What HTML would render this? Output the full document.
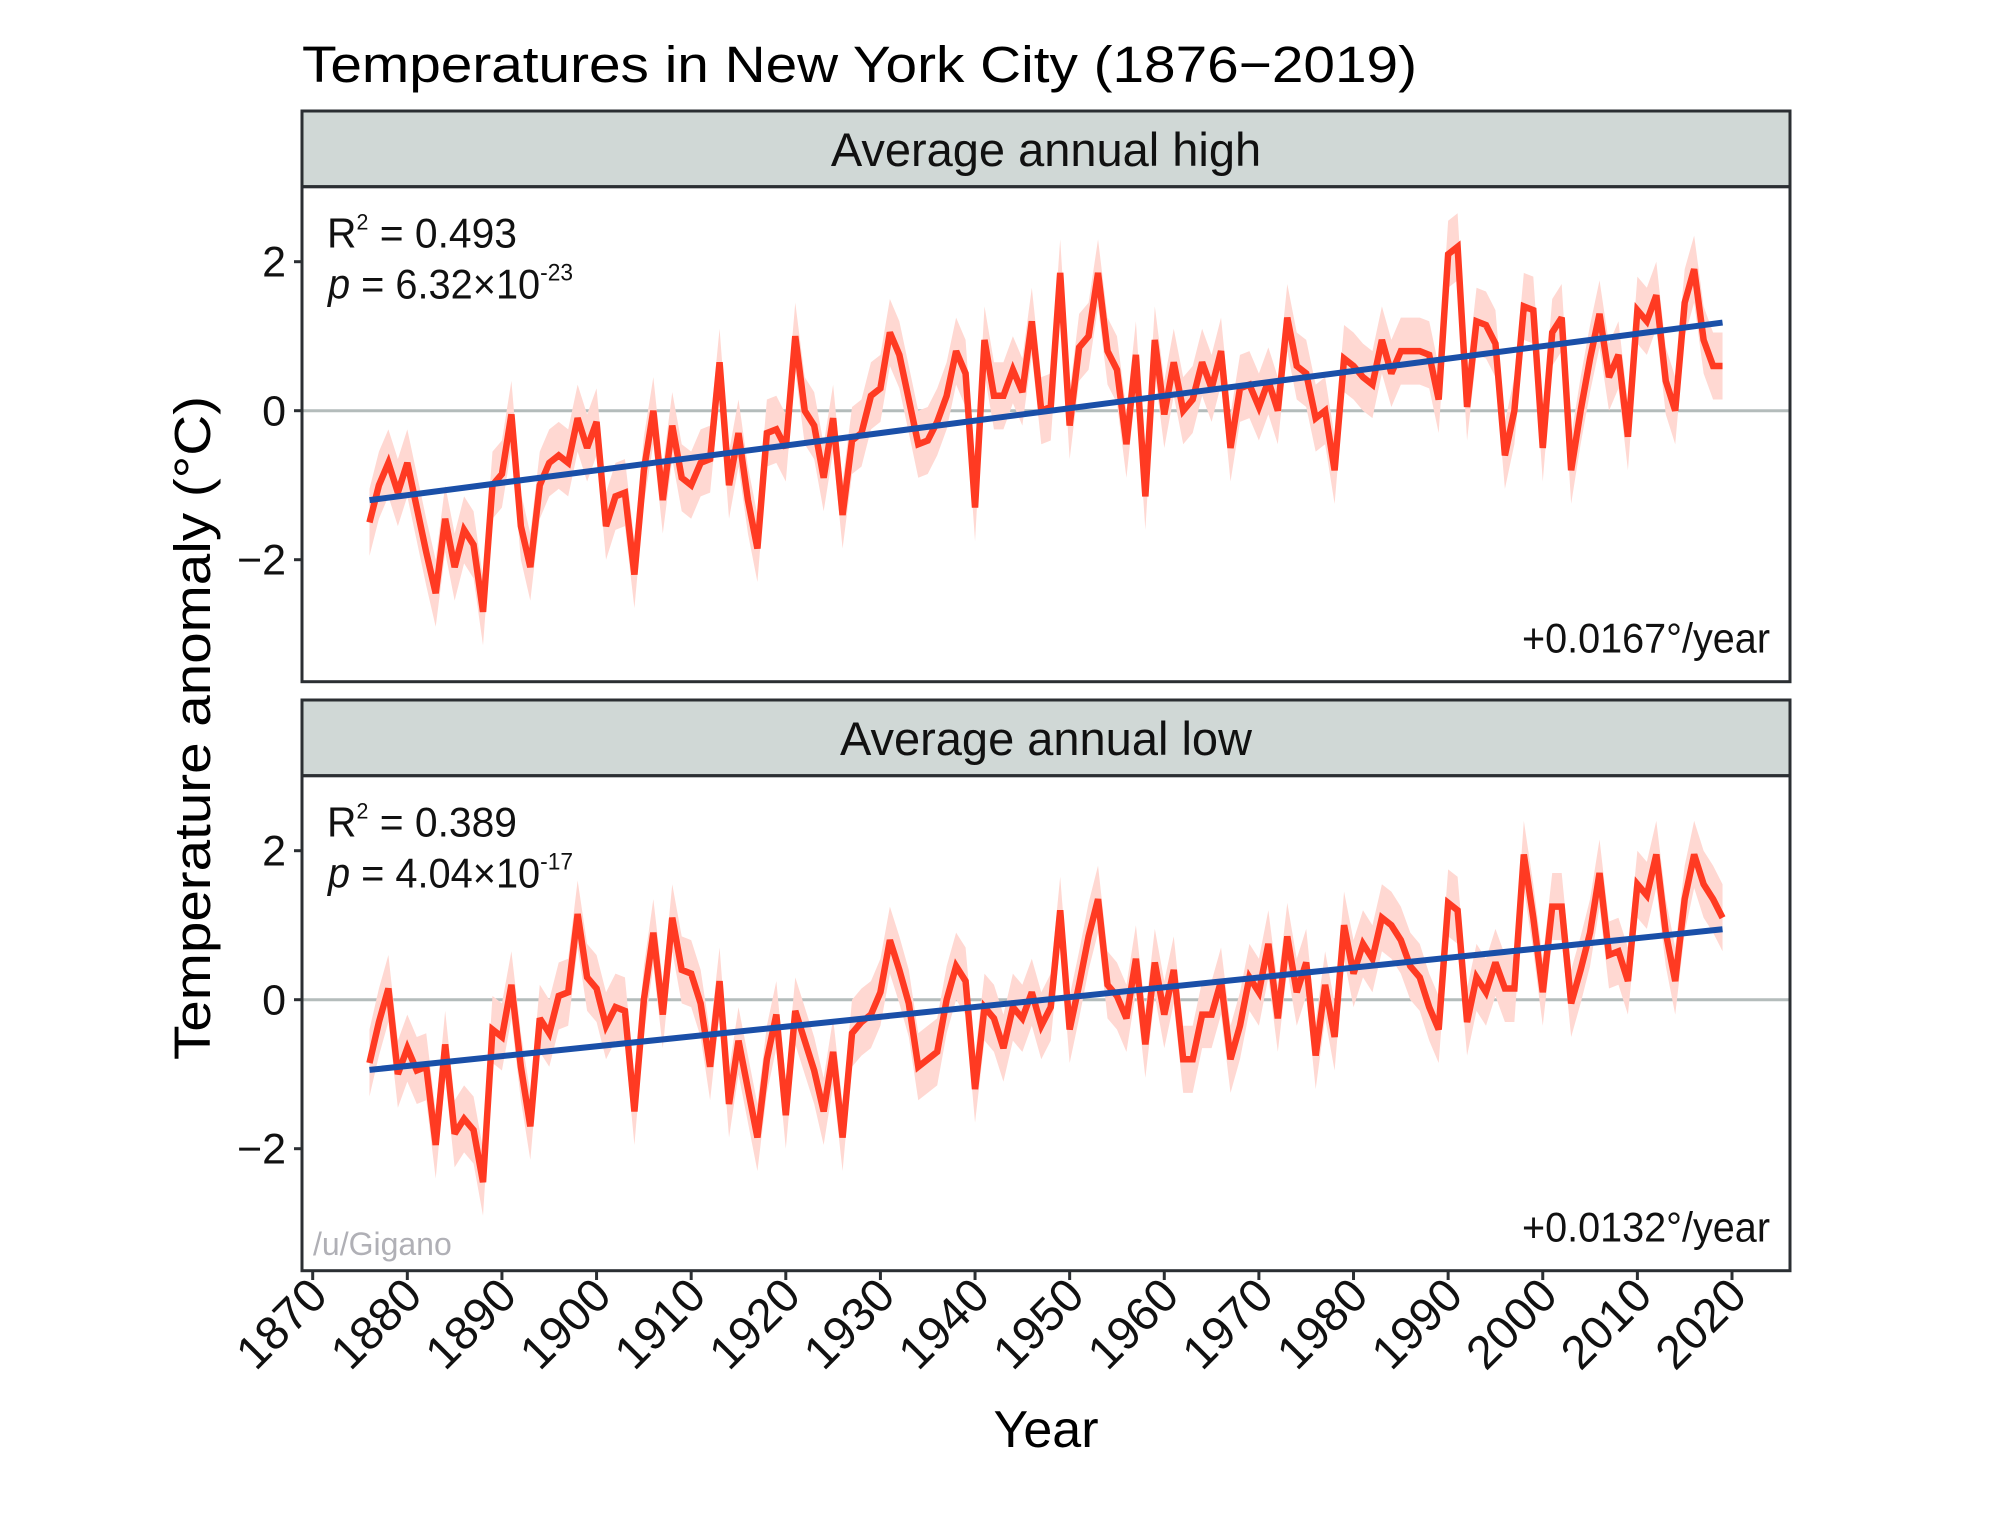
<!DOCTYPE html>
<html><head><meta charset="utf-8"><style>
html,body{margin:0;padding:0;background:#fff;}
svg{display:block;font-family:"Liberation Sans",Arial,sans-serif;}
</style></head><body>
<svg id="chart" width="2000" height="1535" viewBox="0 0 2000 1535" xmlns="http://www.w3.org/2000/svg">
<text x="302" y="82" font-size="51" fill="#000" textLength="1115" lengthAdjust="spacingAndGlyphs">Temperatures in New York City (1876−2019)</text>
<text transform="translate(210,728) rotate(-90)" text-anchor="middle" font-size="51" fill="#000" textLength="664" lengthAdjust="spacingAndGlyphs">Temperature anomaly (°C)</text>
<text x="1046" y="1447" text-anchor="middle" font-size="52" fill="#000">Year</text>
<g id="panels"></g>
<g id="xaxis"></g>
</svg>
<script>
const years = [];
for (let y = 1876; y <= 2019; y++) years.push(y);
const highValues = [-1.5,-1.0,-0.7,-1.1,-0.7,-1.3,-1.9,-2.45,-1.45,-2.1,-1.6,-1.8,-2.7,-1.0,-0.85,-0.05,-1.55,-2.1,-1.0,-0.7,-0.6,-0.7,-0.1,-0.5,-0.15,-1.55,-1.15,-1.1,-2.2,-0.8,0.0,-1.2,-0.2,-0.9,-1.0,-0.7,-0.65,0.65,-1.0,-0.3,-1.2,-1.85,-0.3,-0.25,-0.5,1.0,0.0,-0.2,-0.9,-0.1,-1.4,-0.4,-0.3,0.2,0.3,1.05,0.75,0.15,-0.45,-0.4,-0.15,0.2,0.8,0.5,-1.3,0.95,0.2,0.2,0.55,0.25,1.2,0.0,0.05,1.85,-0.2,0.85,1.0,1.85,0.8,0.55,-0.45,0.75,-1.15,0.95,-0.05,0.65,0.0,0.15,0.65,0.3,0.8,-0.5,0.3,0.35,0.05,0.4,0.0,1.25,0.6,0.5,-0.1,0.0,-0.8,0.7,0.6,0.45,0.35,0.95,0.5,0.8,0.8,0.8,0.75,0.15,2.1,2.2,0.05,1.2,1.15,0.9,-0.6,0.0,1.4,1.35,-0.5,1.05,1.25,-0.8,0.0,0.7,1.3,0.45,0.75,-0.35,1.35,1.2,1.55,0.4,0.0,1.45,1.9,0.95,0.6,0.6];
const lowValues = [-0.85,-0.3,0.15,-1.0,-0.65,-0.95,-0.9,-1.95,-0.6,-1.8,-1.6,-1.75,-2.45,-0.4,-0.5,0.2,-0.9,-1.7,-0.25,-0.45,0.05,0.1,1.15,0.3,0.15,-0.35,-0.1,-0.15,-1.5,0.0,0.9,-0.2,1.1,0.4,0.35,-0.05,-0.9,0.25,-1.4,-0.55,-1.2,-1.85,-0.8,-0.2,-1.55,-0.15,-0.55,-0.95,-1.5,-0.7,-1.85,-0.45,-0.3,-0.2,0.1,0.8,0.4,-0.05,-0.9,-0.8,-0.7,0.0,0.45,0.25,-1.2,-0.1,-0.25,-0.65,-0.1,-0.25,0.1,-0.35,-0.1,1.2,-0.4,0.2,0.85,1.35,0.2,0.05,-0.25,0.55,-0.6,0.5,-0.2,0.4,-0.8,-0.8,-0.2,-0.2,0.25,-0.8,-0.35,0.3,0.1,0.75,-0.25,0.85,0.1,0.5,-0.75,0.2,-0.5,1.0,0.35,0.75,0.55,1.1,1.0,0.8,0.45,0.3,-0.1,-0.4,1.3,1.2,-0.3,0.3,0.1,0.5,0.15,0.15,1.95,1.1,0.1,1.25,1.25,-0.05,0.4,0.9,1.7,0.6,0.65,0.25,1.55,1.4,1.95,0.9,0.25,1.35,1.95,1.55,1.35,1.1];
const ribbonHalfWidth = 0.45;
const yTicks = [-2, 0, 2];
const yTickLabels = ["−2", "0", "2"];
const xTicks = [1870,1880,1890,1900,1910,1920,1930,1940,1950,1960,1970,1980,1990,2000,2010,2020];
const panelTitles = ["Average annual high", "Average annual low"];
const r2Labels = ["0.493", "0.389"];
const pMantissa = ["6.32", "4.04"];
const pExponent = ["-23", "-17"];
const slopeLabels = ["+0.0167°/year", "+0.0132°/year"];

const NS = "http://www.w3.org/2000/svg";
const L = 302, R = 1790;
const xs = yr => 312.7 + (yr - 1870) * 9.462;
const panelsDef = [{top:186.7, zero:410.7, stripTop:111, data:highValues},
                   {top:775.7, zero:999.7, stripTop:700, data:lowValues}];
const UNIT = 74.5, PH = 495;
function mk(tag, attrs, parent){const e=document.createElementNS(NS,tag);for(const k in attrs)e.setAttribute(k,attrs[k]);parent.appendChild(e);return e;}

const gp = document.getElementById('panels');
panelsDef.forEach((p, i) => {
  const ys = v => p.zero - v * UNIT;
  const g = mk('g', {}, gp);
  
  
  const strip = mk('rect', {x:L, y:p.stripTop, width:R-L, height:p.top-p.stripTop, fill:'#d0d8d6', stroke:'#2b2f33', 'stroke-width':3}, g);
  
  
  const st = mk('text', {x:(L+R)/2, y:p.stripTop+55, 'text-anchor':'middle', 'font-size':47, fill:'#111'}, g);
  st.textContent = panelTitles[i];
  
  
  const zl = mk('line', {x1:L, x2:R, y1:ys(0), y2:ys(0), stroke:'#b4bcbb', 'stroke-width':3}, g);
  
  
  let up = years.map((yr,k)=>xs(yr)+','+ys(p.data[k]+ribbonHalfWidth));
  let dn = years.map((yr,k)=>xs(yr)+','+ys(p.data[k]-ribbonHalfWidth)).reverse();
  const rib = mk('polygon', {points:up.concat(dn).join(' '), fill:'#ffd8d2'}, g);
  
  
  const ln = mk('polyline', {points:years.map((yr,k)=>xs(yr)+','+ys(p.data[k])).join(' '), fill:'none', stroke:'#ff3a22', 'stroke-width':6.5, 'stroke-linejoin':'miter', 'stroke-miterlimit':3}, g);
  
  
  const n = years.length; let sx=0, sy=0, sxx=0, sxy=0;
  years.forEach((yr,k)=>{sx+=yr; sy+=p.data[k]; sxx+=yr*yr; sxy+=yr*p.data[k];});
  const b = (n*sxy - sx*sy)/(n*sxx - sx*sx), a = (sy - b*sx)/n;
  const y0 = years[0], y1 = years[n-1];
  const tl = mk('line', {x1:xs(y0), y1:ys(a+b*y0), x2:xs(y1), y2:ys(a+b*y1), stroke:'#1a4fa8', 'stroke-width':6}, g);
  
  
  const fr = mk('rect', {x:L, y:p.top, width:R-L, height:PH, fill:'none', stroke:'#2b2f33', 'stroke-width':3}, g);
  
  
  yTicks.forEach((t,k)=>{
    const tk = mk('line', {x1:L-8, x2:L, y1:ys(t), y2:ys(t), stroke:'#2b2f33', 'stroke-width':3}, g);
    
    
    const tt = mk('text', {x:L-16, y:ys(t)+15, 'text-anchor':'end', 'font-size':43, fill:'#111'}, g);
    tt.textContent = yTickLabels[k];
    
    
  });
  const r2 = mk('text', {x:327, y:p.top+61, 'font-size':42, fill:'#111', textLength:190, lengthAdjust:'spacingAndGlyphs'}, g);
  r2.innerHTML = 'R<tspan font-size="22" dy="-18">2</tspan><tspan dy="18"> = '+r2Labels[i]+'</tspan>';
  
  
  const pv = mk('text', {x:328, y:p.top+112, 'font-size':42, fill:'#111'}, g);
  pv.innerHTML = '<tspan font-style="italic">p</tspan> = '+pMantissa[i]+'×10<tspan font-size="24" dy="-18">'+pExponent[i]+'</tspan>';
  pv.setAttribute('textLength', '245');
  pv.setAttribute('lengthAdjust', 'spacingAndGlyphs');
  
  
  const sl = mk('text', {x:1770, y:p.top+466, 'text-anchor':'end', 'font-size':42, fill:'#111', textLength:248, lengthAdjust:'spacingAndGlyphs'}, g);
  sl.textContent = slopeLabels[i];
  
  
});
const wm = mk('text', {x:313, y:1255, 'font-size':32, fill:'#b0b0b6'}, gp);
wm.textContent = '/u/Gigano';



const gx = document.getElementById('xaxis');
xTicks.forEach(t=>{
  const tk = mk('line', {x1:xs(t), x2:xs(t), y1:1271, y2:1280, stroke:'#2b2f33', 'stroke-width':3}, gx);
  
  
  const tt = mk('text', {transform:'translate('+(xs(t)+17)+',1298) rotate(-45)', 'text-anchor':'end', 'font-size':47, fill:'#111'}, gx);
  tt.textContent = t;
  
  
});
</script>
</body></html>
